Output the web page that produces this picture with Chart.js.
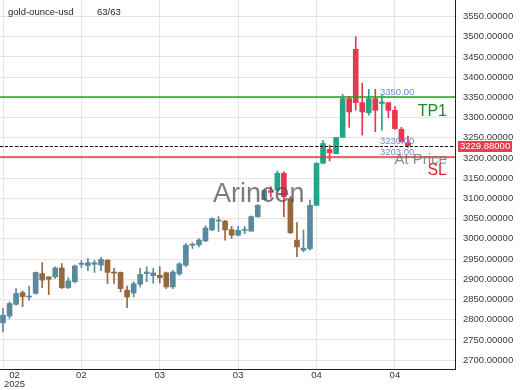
<!DOCTYPE html>
<html>
<head>
<meta charset="utf-8">
<script src="https://cdn.jsdelivr.net/npm/chart.js@4.4.1/dist/chart.umd.min.js"></script>
<style>
  html, body { margin: 0; padding: 0; background: #fff; }
</style>
</head>
<body>
<canvas id="chart" width="520" height="390"></canvas>
<script>
// gold-ounce-usd daily candles
const symbol = "gold-ounce-usd";
const barCount = "63/63";

const opens = [2792, 2809, 2838, 2867, 2856, 2865, 2914, 2906, 2906, 2928,
  2879, 2894, 2937, 2934, 2937, 2935, 2947, 2918, 2917, 2873,
  2866, 2888, 2914, 2909, 2910, 2916, 2881, 2913, 2935, 2984,
  2985, 2995, 3022, 3044, 3044, 3023, 3009, 3021, 3019, 3055,
  3097, 3119, 3121, 3162, 3100, 2997, 2972, 2976, 3083, 3187,
  3221, 3211, 3251, 3347, 3469, 3337, 3312, 3347, 3335, 3337,
  3318, 3271, 3238];
const highs = [2828, 2844, 2877, 2871, 2883, 2918, 2941, 2906, 2931, 2939,
  2904, 2935, 2946, 2951, 2947, 2954, 2949, 2927, 2918, 2883,
  2894, 2927, 2931, 2927, 2931, 2918, 2922, 2941, 2989, 2990,
  3001, 3032, 3052, 3055, 3046, 3031, 3031, 3031, 3057, 3085,
  3122, 3129, 3168, 3166, 3105, 3040, 3022, 3096, 3188, 3244,
  3232, 3251, 3358, 3353, 3500, 3385, 3370, 3370, 3356, 3337,
  3327, 3276, 3254];
const lows = [2770, 2803, 2836, 2832, 2848, 2863, 2879, 2862, 2902, 2877,
  2877, 2891, 2929, 2921, 2917, 2921, 2889, 2890, 2869, 2830,
  2856, 2881, 2894, 2890, 2891, 2877, 2877, 2910, 2931, 2976,
  2980, 2993, 3020, 3018, 2997, 3001, 3007, 3013, 3019, 3053,
  3096, 3104, 3116, 3055, 3013, 2956, 2968, 2972, 3083, 3186,
  3193, 3210, 3251, 3276, 3318, 3257, 3306, 3265, 3269, 3300,
  3271, 3240, 3226];
const closes = [2811, 2840, 2865, 2857, 2858, 2917, 2898, 2900, 2928, 2879,
  2896, 2933, 2938, 2941, 2941, 2949, 2917, 2915, 2877, 2856,
  2889, 2912, 2918, 2916, 2904, 2881, 2918, 2938, 2984, 2987,
  2997, 3027, 3050, 3045, 3022, 3009, 3021, 3023, 3055, 3083,
  3120, 3115, 3162, 3104, 3015, 2980, 2977, 3083, 3187, 3236,
  3213, 3251, 3347, 3314, 3337, 3314, 3347, 3318, 3339, 3318,
  3273, 3240, 3230];

const xTickIndex = [0, 12, 24, 36, 48, 60];
const xTickLabels = [["02", "2025"], ["02"], ["03"], ["03"], ["04"], ["04"]];

const takeProfit = 3350;
const entryPrice = 3230;
const stopLoss = 3203;
const lastPrice = 3229.88;

const FONT = "'Liberation Sans', Arial, sans-serif";

function candleColor(i) {
  const up = closes[i] >= opens[i];
  // older bars look washed out in the reference
  const muted = i < 48 && (i < 41 || i > 43);
  if (muted) return up ? "#5a8a9e" : "#98683d";
  return up ? "#26a38b" : "#e5374f";
}

const idx = opens.map((_, i) => i);

const overlay = {
  id: "overlay",
  afterDatasetsDraw(chart) {
    const { ctx, chartArea: a, scales } = chart;
    const ys = scales.y;
    ctx.save();

    // watermark
    ctx.font = "27px " + FONT;
    ctx.fillStyle = "rgba(80,80,80,0.75)";
    ctx.textBaseline = "alphabetic";
    ctx.textAlign = "left";
    ctx.fillText("Arincen", a.left + 213, 202);

    const hline = (v, color, dash, width, shift) => {
      const y = Math.round(ys.getPixelForValue(v)) + shift;
      ctx.beginPath();
      ctx.setLineDash(dash);
      ctx.strokeStyle = color;
      ctx.lineWidth = width;
      ctx.moveTo(a.left, y);
      ctx.lineTo(a.right, y);
      ctx.stroke();
      return y;
    };
    const yTp = hline(takeProfit, "#22a022", [], 1.6, 0);
    const ySl = hline(stopLoss, "#e8303f", [], 1.6, 0);
    hline(lastPrice, "#888", [1, 2], 1, 0.5);
    const yEn = hline(entryPrice, "#111", [3, 2], 1, 0.5);
    ctx.setLineDash([]);

    // level values
    ctx.font = "9.5px " + FONT;
    ctx.fillStyle = "#7088d4";
    ctx.textAlign = "left";
    ctx.fillText(takeProfit.toFixed(2), a.right - 75, yTp - 2);
    ctx.fillText(entryPrice.toFixed(2), a.right - 75, yEn - 2.5);
    ctx.fillText(stopLoss.toFixed(2), a.right - 75, ySl - 2);

    // level names
    ctx.textAlign = "right";
    ctx.font = "16px " + FONT;
    ctx.fillStyle = "#1f8a1f";
    ctx.fillText("TP1", a.right - 8, yTp + 19);
    ctx.font = "15px " + FONT;
    ctx.fillStyle = "rgba(110,110,110,0.8)";
    ctx.fillText("At Price", a.right - 8, yEn + 17);
    ctx.font = "16px " + FONT;
    ctx.fillStyle = "#d8283a";
    ctx.fillText("SL", a.right - 8, ySl + 18);

    // header
    ctx.font = "9.5px " + FONT;
    ctx.fillStyle = "#222";
    ctx.textAlign = "left";
    ctx.fillText(symbol, a.left + 8, 15);
    ctx.fillText(barCount, a.left + 97, 15);
    ctx.restore();
  },
  afterDraw(chart) {
    const { ctx, chartArea: a, scales } = chart;
    const xs = scales.x, ys = scales.y;
    ctx.save();

    // x labels, first one kept inside the canvas
    ctx.font = "9.5px " + FONT;
    ctx.fillStyle = "#333";
    ctx.textAlign = "center";
    ctx.textBaseline = "top";
    xTickIndex.forEach((v, k) => {
      const lines = xTickLabels[k];
      const w = Math.max(...lines.map(t => ctx.measureText(t).width));
      const px = Math.max(xs.getPixelForValue(v), a.left + 4 + w / 2);
      lines.forEach((t, j) => ctx.fillText(t, px, a.bottom + 2 + j * 9));
    });

    // last price tag on the axis
    const y = ys.getPixelForValue(lastPrice);
    ctx.fillStyle = "#e6404f";
    ctx.fillRect(a.right + 3, Math.round(y) - 5, 54, 11);
    ctx.fillStyle = "#fff";
    ctx.textAlign = "left";
    ctx.textBaseline = "middle";
    ctx.fillText(lastPrice.toFixed(5), a.right + 5, Math.round(y) + 0.5);
    ctx.restore();
  }
};

new Chart(document.getElementById("chart").getContext("2d"), {
  type: "bar",
  data: {
    datasets: [
      {
        label: "body",
        data: idx.map(i => ({ x: i, y: [opens[i], closes[i]] })),
        backgroundColor: c => candleColor(c.dataIndex),
        barThickness: 5,
        minBarLength: 1,
        grouped: false,
        borderWidth: 0,
      },
      {
        label: "wick",
        data: idx.map(i => ({ x: i, y: [lows[i], highs[i]] })),
        backgroundColor: c => candleColor(c.dataIndex),
        barThickness: 1,
        grouped: false,
        borderWidth: 0,
      },
    ],
  },
  options: {
    responsive: false,
    animation: false,
    devicePixelRatio: 1,
    layout: { autoPadding: false, padding: { left: 0, top: 0, right: 0, bottom: 21 } },
    plugins: { legend: { display: false }, tooltip: { enabled: false } },
    scales: {
      x: {
        type: "linear",
        offset: false,
        min: -0.46,
        max: 69.2,
        afterBuildTicks: s => { s.ticks = xTickIndex.map(v => ({ value: v })); },
        afterFit: s => { s.paddingLeft = 0; s.paddingRight = 0; },
        ticks: { display: false },
        grid: { color: "#e4e4e4", drawTicks: false, offset: false },
        border: { display: true, color: "#222" },
      },
      y: {
        type: "linear",
        position: "right",
        min: 2678,
        max: 3591,
        afterFit: s => { s.width = 65; s.paddingTop = 0; s.paddingBottom = 0; },
        ticks: {
          stepSize: 50,
          includeBounds: false,
          padding: 8,
          color: "#3a3a3a",
          font: { family: FONT, size: 9.5 },
          callback: v => Number(v).toFixed(5),
        },
        grid: { color: "#e4e4e4", drawTicks: false },
        border: { display: true, color: "#222" },
      },
    },
  },
  plugins: [overlay],
});
</script>
</body>
</html>
